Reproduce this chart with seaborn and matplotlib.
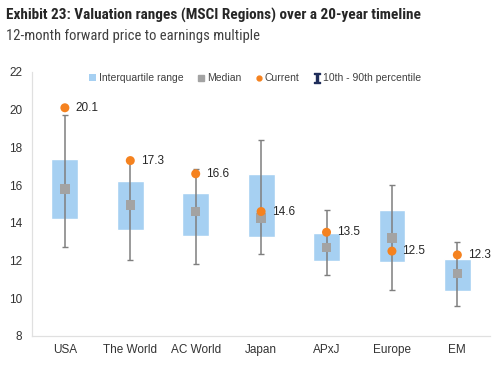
import matplotlib
matplotlib.use("Agg")
import matplotlib.pyplot as plt
import seaborn as sns
import pandas as pd
import numpy as np
from matplotlib.lines import Line2D
from matplotlib.patches import Patch

regions = ["USA", "The World", "AC World", "Japan", "APxJ", "Europe", "EM"]
q1 = [14.2, 13.6, 13.3, 13.25, 12.0, 11.9, 10.4]
q3 = [17.4, 16.2, 15.6, 16.6, 13.45, 14.7, 12.1]
median = [15.8, 14.95, 14.6, 14.25, 12.7, 13.2, 11.3]
p10 = [12.7, 12.05, 11.8, 12.35, 11.25, 10.45, 9.6]
p90 = [19.7, 17.2, 16.85, 18.4, 14.7, 16.0, 13.0]
current = [20.1, 17.3, 16.6, 14.6, 13.5, 12.5, 12.3]
current_labels = ["20.1", "17.3", "16.6", "14.6", "13.5", "12.5", "12.3"]
yticks = [8, 10, 12, 14, 16, 18, 20, 22]

df = pd.DataFrame({"region": regions, "q1": q1, "q3": q3, "median": median,
                   "p10": p10, "p90": p90, "current": current})
df["iqr"] = df["q3"] - df["q1"]

sns.set_theme(style="white")
plt.rcParams["font.family"] = ["Liberation Sans", "DejaVu Sans"]
TITLE_FAMILY = ["Roboto Condensed", "Liberation Sans Narrow", "Roboto", "DejaVu Sans"]

fig = plt.figure(figsize=(4.95, 3.67), dpi=100)
ax = fig.add_axes([0.065, 0.0845, 0.925, 0.7195])

BLUE = "#a6d0f2"
GRAY = "#a3a3a3"
ORANGE = "#f5821f"
WHISK = "#7f7f7f"

sns.barplot(data=df, x="region", y="iqr", bottom=df["q1"].values, color=BLUE,
            width=0.41, ax=ax, saturation=1, zorder=1)

x = np.arange(len(regions))
ax.errorbar(x, df["median"], yerr=[df["median"] - df["p10"], df["p90"] - df["median"]],
            fmt="none", ecolor=WHISK, elinewidth=1.1, capsize=2.5, capthick=1.0, zorder=2)

sns.scatterplot(data=df, x="region", y="median", marker="s", s=45, color=GRAY,
                edgecolor="none", ax=ax, zorder=3)
sns.scatterplot(data=df, x="region", y="current", marker="o", s=42, color=ORANGE,
                edgecolor="none", ax=ax, zorder=4)

for i, (v, lab) in enumerate(zip(current, current_labels)):
    ax.text(i + 0.16, v, lab, fontsize=8.5, color="#262626", va="center", ha="left")

ax.set_ylim(8, 22)
ax.set_yticks(yticks)
ax.set_xlim(-0.5, len(regions) - 0.5)
ax.set_xlabel("")
ax.set_ylabel("")
ax.tick_params(axis="both", labelsize=8.5, colors="#333333", length=0, pad=6)
ax.tick_params(axis="y", pad=7)
ax.set_xticks(np.arange(-0.5, len(regions)), minor=True)
ax.tick_params(axis="x", which="minor", length=3, color="#d9d9d9", width=0.8)

for s in ["top", "right"]:
    ax.spines[s].set_visible(False)
for s in ["left", "bottom"]:
    ax.spines[s].set_color("#e0e0e0")
    ax.spines[s].set_linewidth(0.9)

handles = [
    Patch(facecolor=BLUE, edgecolor="none"),
    Line2D([], [], marker="s", color=GRAY, linestyle="none", markersize=5),
    Line2D([], [], marker="o", color=ORANGE, linestyle="none", markersize=3.5),
    Line2D([], [], marker="$\\mathtt{I}$", color="#1f2d5a", linestyle="none", markersize=7),
]
labels = ["Interquartile range", "Median", "Current", "10th - 90th percentile"]
leg = ax.legend(handles, labels, loc="upper center", bbox_to_anchor=(0.487, 1.03), ncol=4,
                frameon=False, fontsize=7.5, handlelength=0.7, handleheight=0.7,
                handletextpad=0.25, columnspacing=1.3, labelcolor="#404040")

fig.text(0.012, 0.958, "Exhibit 23: Valuation ranges (MSCI Regions) over a 20-year timeline",
         fontsize=11, fontweight="bold", color="#262626", family=TITLE_FAMILY, va="center")
fig.text(0.012, 0.903, "12-month forward price to earnings multiple", fontsize=10.5,
         color="#404040", family=TITLE_FAMILY, va="center")

fig.savefig("out.png", dpi=100)
